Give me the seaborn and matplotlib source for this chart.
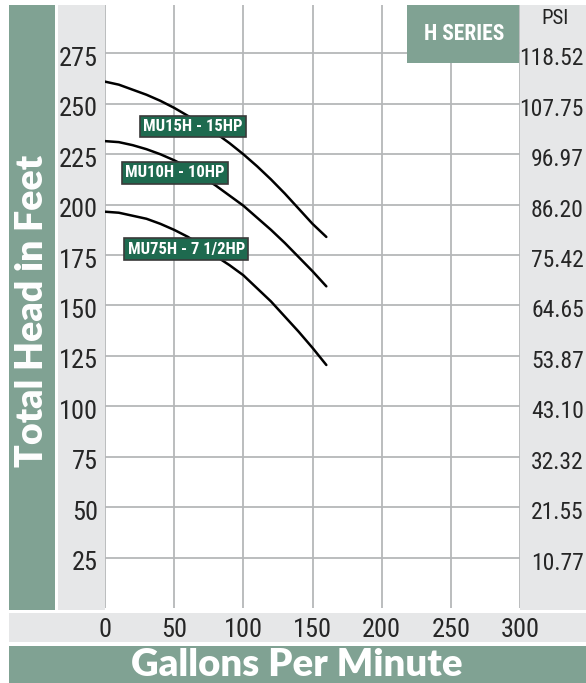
import matplotlib
matplotlib.use("Agg")
import matplotlib.pyplot as plt
from matplotlib.patches import Rectangle
from matplotlib.transforms import ScaledTranslation
import seaborn as sns
import pandas as pd

# ---------------- data ----------------
gpm = [0, 10, 20, 30, 40, 50, 60, 70, 80, 90, 100, 110, 120, 130, 140, 150, 160]
mu15h = [261, 259.5, 257, 254.5, 251.5, 248, 244, 240, 235.5, 230.5, 225,
         219, 212.5, 205.5, 198, 190.5, 184]
mu10h = [231.5, 231, 229.5, 227.5, 225, 222, 218.5, 214, 209.5, 204.5, 199.5,
         193.5, 187.5, 181, 174, 167, 159.5]
mu75h = [196.5, 196, 194.5, 193, 190.5, 187.5, 184, 179.5, 174.5, 170, 165,
         158.5, 152, 144.5, 137, 129, 120.5]
models = ["MU15H - 15HP", "MU10H - 10HP", "MU75H - 7 1/2HP"]

feet_ticks = [25, 50, 75, 100, 125, 150, 175, 200, 225, 250, 275]
psi_labels = ["10.77", "21.55", "32.32", "43.10", "53.87", "64.65",
              "75.42", "86.20", "96.97", "107.75", "118.52"]
gpm_ticks = [0, 50, 100, 150, 200, 250, 300]

rows = []
for name, vals in zip(models, [mu15h, mu10h, mu75h]):
    for q, h in zip(gpm, vals):
        rows.append({"model": name, "gpm": q, "head": h})
df = pd.DataFrame(rows)

# ---------------- style ----------------
W, H = 586, 683
GREEN = "#80a293"
GRAY = "#e6e7e8"
GRID = "#b5b7b9"
LABEL_BG = "#1e6a4f"
COND = ["DejaVu Sans Condensed", "Roboto Condensed", "Liberation Sans Narrow",
        "Roboto", "DejaVu Sans"]
HEAVY = ["Lato", "DejaVu Sans"]

sns.set_theme(style="white")
plt.rcParams["font.family"] = COND

fig = plt.figure(figsize=(W / 100, H / 100), dpi=100)
fig.patch.set_facecolor("white")


def px_rect(x0, y0, x1, y1, color, z=0):
    fig.add_artist(Rectangle((x0 / W, 1 - y1 / H), (x1 - x0) / W, (y1 - y0) / H,
                             transform=fig.transFigure, facecolor=color,
                             edgecolor="none", zorder=z))


# background bands
px_rect(9, 5, 55, 610, GREEN)
px_rect(58, 5, 105, 610, GRAY)
px_rect(520, 5, 586, 610, GRAY)
px_rect(9, 613, 586, 642, GRAY)
px_rect(9, 646, 586, 683, GREEN)

# main axes: x 105..520, y 5..608
ax = fig.add_axes([105 / W, 1 - 608 / H, 415 / W, 603 / H])
ax.set_facecolor("white")
sns.lineplot(data=df, x="gpm", y="head", units="model", estimator=None,
             color="black", linewidth=1.8, ax=ax, legend=False, zorder=3)

ax.set_xlim(0, 300)
ax.set_ylim(0, 299)
ax.set_xticks(gpm_ticks)
ax.set_xticklabels([str(t) for t in gpm_ticks], fontsize=19)
ax.set_yticks(feet_ticks)
ax.set_yticklabels([str(t) for t in feet_ticks], fontsize=19)
ax.tick_params(axis="x", length=0, pad=7)
ax.tick_params(axis="y", length=0, pad=5)
ax.grid(True, color=GRID, linewidth=1.3)
ax.set_axisbelow(True)
for s in ax.spines.values():
    s.set_visible(False)
ax.set_xlabel("")
ax.set_ylabel("")

# PSI axis on right
ax2 = ax.twinx()
ax2.set_ylim(ax.get_ylim())
ax2.set_yticks(feet_ticks)
ax2.set_yticklabels(psi_labels, fontsize=17, ha="right")
ax2.tick_params(axis="y", length=0, pad=46)
for s in ax2.spines.values():
    s.set_visible(False)
ax2.grid(False)

down = ScaledTranslation(0, -3 / 100, fig.dpi_scale_trans)
for lab in list(ax.get_yticklabels()) + list(ax2.get_yticklabels()):
    lab.set_transform(lab.get_transform() + down)

# curve labels
label_pos = {"MU15H - 15HP": (63.6, 238.7),
             "MU10H - 10HP": (50.4, 215.7),
             "MU75H - 7 1/2HP": (58.8, 177.9)}
for name in models:
    x, y = label_pos[name]
    ax.text(x, y, name, ha="center", va="center", color="white",
            fontsize=12, fontweight="bold", zorder=5,
            bbox=dict(boxstyle="square,pad=0.2", facecolor=LABEL_BG,
                      edgecolor="#3a3a3a", linewidth=1.2))

# H SERIES box
px_rect(407, 5, 519, 63, GREEN, z=5)
fig.text(464 / W, 1 - 34 / H, "H SERIES", ha="center", va="center",
         color="white", fontsize=15.5, fontweight="bold", zorder=6)

# PSI header
fig.text(555 / W, 1 - 19 / H, "PSI", ha="center", va="center",
         color="#222222", fontsize=15)

# axis titles in bands
fig.text(32 / W, 1 - 311 / H, "Total Head in Feet", rotation=90,
         ha="center", va="center", color="white", fontsize=27,
         fontweight="heavy", family=HEAVY)
fig.text(297 / W, 1 - 665 / H, "Gallons Per Minute", ha="center",
         va="center", color="white", fontsize=27.5, fontweight="heavy",
         family=HEAVY)

fig.savefig("out.png", dpi=100)
